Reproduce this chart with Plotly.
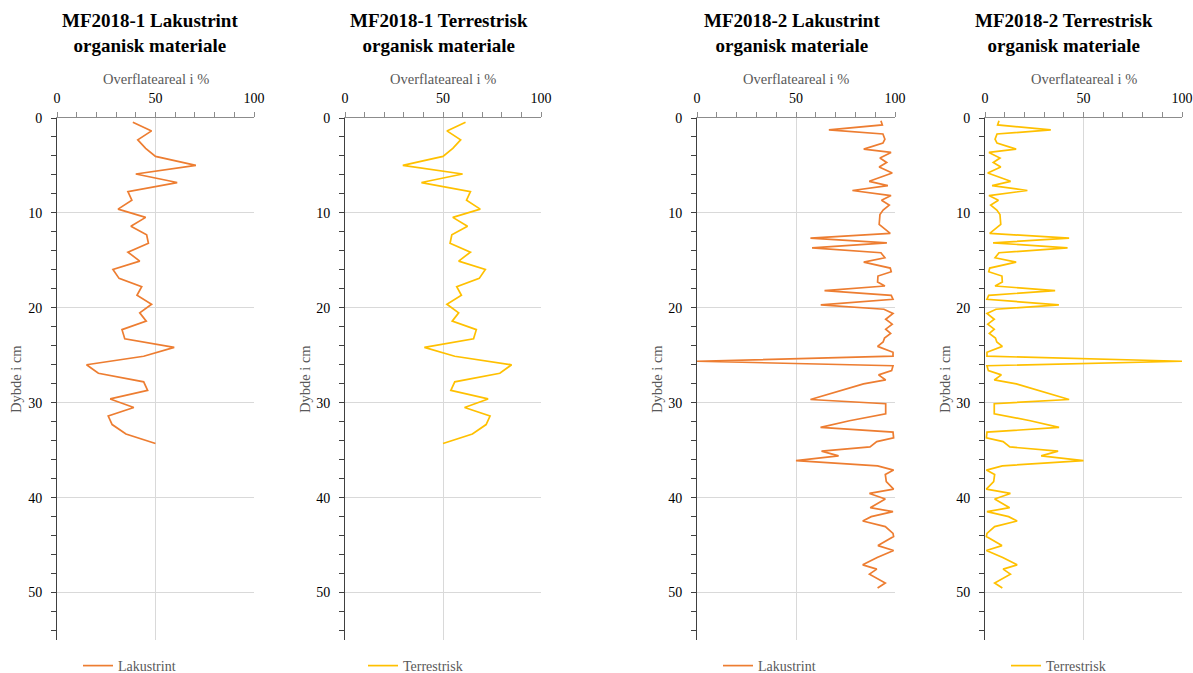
import plotly.graph_objects as go

# ---------------- data ----------------
depth_1 = [0.45, 1.36, 2.3, 3.2, 4.05, 5.0, 5.9, 6.8, 7.75, 8.65, 9.6, 10.47, 11.4, 12.3,
           13.2, 14.13, 15.08, 15.95, 16.9, 17.77, 18.68, 19.62, 20.53, 21.4, 22.3, 23.26,
           24.17, 25.1, 26.0, 26.9, 27.8, 28.7, 29.6, 30.5, 31.4, 32.3, 33.3, 34.3]
lak_1 = [38.5, 48, 41, 45, 50, 70.5, 40, 61, 36, 38, 31, 45, 37.5, 45.5,
         46.4, 36, 42, 28.4, 31.5, 43, 40.6, 48, 42, 45.3, 33, 34.4,
         59.5, 44, 15, 21, 44, 46, 27, 39, 26, 28, 35, 50]
ter_1 = [61.5, 52, 59, 55, 50, 29.5, 60, 39, 64, 62, 69, 55, 62.5, 54.5,
         53.6, 64, 58, 71.6, 68.5, 57, 59.4, 52, 58, 54.7, 67, 65.6,
         40.5, 56, 85, 79, 56, 54, 73, 61, 74, 72, 65, 50]

depth_2 = [0.28, 0.73, 1.26, 1.68, 2.23, 2.65, 3.28, 3.63, 4.22, 4.68, 5.17, 5.8, 6.67, 7.12,
           7.64, 8.17, 8.66, 9.18, 9.7, 10.16, 10.7, 11.2, 12.15, 12.66, 13.15, 13.68, 14.2,
           14.73, 15.18, 15.81, 16.2, 16.65, 17.28, 17.7, 18.19, 18.68, 19.1, 19.69, 20.15,
           20.6, 21.2, 21.72, 22.25, 22.7, 23.19, 23.6, 24.06, 24.69, 25.1, 25.63, 26.1,
           26.62, 27.07, 27.6, 28.02, 28.8, 29.66, 30.1, 31.16, 31.9, 32.6, 33.1, 33.7,
           34.1, 34.66, 35.1, 35.6, 36.1, 36.65, 37.1, 37.56, 38.3, 39.1, 39.56, 40.15,
           41.06, 41.48, 42.0, 42.46, 43.05, 43.76, 44.1, 45.05, 45.57, 46.3, 47.08, 47.53,
           48.06, 49.0, 49.53]
lak_2 = [92.9, 93.6, 66.6, 93.9, 94.9, 93.9, 84.2, 98, 92.4, 95.8, 92, 98.6, 87, 96.4,
         78.5, 98, 93.2, 97.1, 94, 92.4, 92.2, 92, 97.6, 57.3, 95.9, 58.1, 92.9,
         94.9, 84.2, 97.6, 98.1, 91.4, 91.2, 94.9, 64.4, 98.1, 99, 62.5, 94.4,
         99, 95.3, 98.6, 95.3, 97.8, 94.7, 94, 91.2, 99, 99, 0, 99,
         98.3, 91.7, 95.3, 84.1, 71, 57.3, 95.3, 95.3, 77, 62.4, 99, 99.3,
         90.8, 87.4, 62.9, 71.5, 50, 91.2, 99.3, 95.1, 95.6, 99.3, 87.1, 95.1,
         87.5, 99, 88, 83.7, 95.1, 99, 99.3, 91.4, 99.3, 91, 83.7, 90.8,
         87.1, 95.1, 91.2]
ter_2 = [7.1, 6.4, 33.4, 6.1, 5.1, 6.1, 15.8, 2, 7.6, 4.2, 8, 1.4, 13, 3.6,
         21.5, 2, 6.8, 2.9, 6, 7.6, 7.8, 8, 2.4, 42.7, 4.1, 41.9, 7.1,
         5.1, 15.8, 2.4, 1.9, 8.6, 8.8, 5.1, 35.6, 1.9, 1, 37.5, 5.6,
         1, 4.7, 1.4, 4.7, 2.2, 5.3, 6, 8.8, 1, 1, 100, 1,
         1.7, 8.3, 4.7, 15.9, 29, 42.7, 4.7, 4.7, 23, 37.6, 1, 0.7,
         9.2, 12.6, 37.1, 28.5, 50, 8.8, 0.7, 4.9, 4.4, 0.7, 12.9, 4.9,
         12.5, 1, 12, 16.3, 4.9, 1, 0.7, 8.6, 0.7, 9, 16.3, 9.2,
         12.9, 4.9, 8.8]

titles = ["MF2018-1 Lakustrint<br>organisk materiale",
          "MF2018-1 Terrestrisk<br>organisk materiale",
          "MF2018-2 Lakustrint<br>organisk materiale",
          "MF2018-2 Terrestrisk<br>organisk materiale"]
series_names = ["Lakustrint", "Terrestrisk", "Lakustrint", "Terrestrisk"]
x_title = "Overflateareal i %"
y_title = "Dybde i cm"

# ---------------- layout helpers ----------------
W, H = 1193, 673
ORANGE = "#ED7D31"
GOLD = "#FFC000"
FONT = "Liberation Serif"

def fx(p):
    return p / W

def fy(p):
    return 1 - p / H

panels = [(57, 254), (345, 541), (697, 895), (985, 1182)]
title_cx = [150, 439, 792, 1064]
ytitle_x = [16, 305, 657, 945]
legend_x = [78, 363, 718, 1006]
PLOT_TOP, PLOT_BOTTOM = 118, 640

data = [(lak_1, depth_1, ORANGE), (ter_1, depth_1, GOLD),
        (lak_2, depth_2, ORANGE), (ter_2, depth_2, GOLD)]

fig = go.Figure()
layout = dict(
    width=W, height=H,
    margin=dict(l=0, r=0, t=0, b=0, autoexpand=False),
    paper_bgcolor="white", plot_bgcolor="white",
    font=dict(family=FONT, size=14, color="#000000"),
    showlegend=True,
)
annotations = []

for i, ((x0, x1), (vals, deps, col)) in enumerate(zip(panels, data)):
    n = "" if i == 0 else str(i + 1)
    leg = "legend" if i == 0 else f"legend{i + 1}"
    fig.add_trace(go.Scatter(
        x=vals, y=deps, mode="lines", name=series_names[i],
        line=dict(color=col, width=1.7),
        xaxis=f"x{n}", yaxis=f"y{n}", legend=leg,
    ))
    layout[f"xaxis{n}"] = dict(
        domain=[fx(x0), fx(x1)], anchor=f"y{n}", side="top",
        range=[0, 100], dtick=50, tick0=0,
        showline=True, linecolor="#8c8c8c", linewidth=1,
        ticks="outside", ticklen=5, tickcolor="#8c8c8c",
        minor=dict(dtick=10, ticks="outside", ticklen=5, tickcolor="#8c8c8c", showgrid=False),
        showgrid=True, gridcolor="#d9d9d9", gridwidth=1, zeroline=False,
        tickfont=dict(family=FONT, size=14, color="#000000"),
        ticklabelstandoff=3, fixedrange=True, automargin=False,
    )
    layout[f"yaxis{n}"] = dict(
        domain=[fy(PLOT_BOTTOM), fy(PLOT_TOP)], anchor=f"x{n}",
        range=[55, 0], dtick=10, tick0=0,
        showline=True, linecolor="#404040", linewidth=1,
        ticks="outside", ticklen=5, tickcolor="#404040",
        minor=dict(dtick=2, ticks="outside", ticklen=5, tickcolor="#404040", showgrid=False),
        showgrid=True, gridcolor="#d9d9d9", gridwidth=1, zeroline=False,
        tickfont=dict(family=FONT, size=14, color="#000000"),
        ticklabelstandoff=6, fixedrange=True, automargin=False,
    )
    layout[leg] = dict(
        x=fx(legend_x[i]), y=fy(666), xanchor="left", yanchor="middle",
        orientation="h", bgcolor="rgba(0,0,0,0)", borderwidth=0,
        font=dict(family=FONT, size=14, color="#595959"),
    )
    annotations.append(dict(
        text=f"<b>{titles[i]}</b>", x=fx(title_cx[i]), y=fy(33), xref="paper", yref="paper",
        xanchor="center", yanchor="middle", showarrow=False,
        font=dict(family=FONT, size=19, color="#000000"),
    ))
    annotations.append(dict(
        text=x_title, x=fx((x0 + x1) / 2), y=fy(79), xref="paper", yref="paper",
        xanchor="center", yanchor="middle", showarrow=False,
        font=dict(family=FONT, size=14.5, color="#595959"),
    ))
    annotations.append(dict(
        text=y_title, x=fx(ytitle_x[i]), y=fy(379), xref="paper", yref="paper",
        xanchor="center", yanchor="middle", showarrow=False, textangle=-90,
        font=dict(family=FONT, size=14.5, color="#595959"),
    ))

layout["annotations"] = annotations
fig.update_layout(**layout)
fig.write_html("out.html")
